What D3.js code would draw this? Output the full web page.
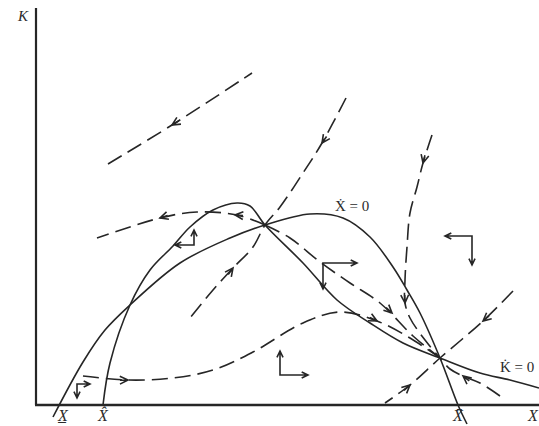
<!DOCTYPE html>
<html>
<head>
<meta charset="utf-8">
<script src="https://cdn.jsdelivr.net/npm/d3@7"></script>
<style>
  body { margin: 0; background: #fff; }
  svg { display: block; }
  text { font-family: "Liberation Serif", "DejaVu Serif", serif; fill: #2b2b2b; }
</style>
</head>
<body>
<div id="chart"></div>
<script>
const width = 539, height = 426;

// nullclines, in chart units (X across, K up)
const xDotZero = [[3.4,-2.4],[9.4,8.6],[13.8,15.0],[18.8,20.0],[28.8,28.4],[38.8,33.4],[45.8,36.0],
  [54.8,38.2],[61.4,37.4],[66.8,33.6],[71.4,27.6],[74.2,23.0],[76.8,18.4],[80.8,9.4],[84.4,0],[86.2,-3.8]];
const kDotZero = [[13.4,0],[14.8,8.4],[18.8,20.0],[22.8,27.0],[27.4,31.8],[30.8,35.6],[35.4,39.0],
  [40.2,40.4],[42.8,39.8],[45.8,36.0],[53.4,28.4],[60.2,21.0],[66.8,16.4],[73.4,12.4],[80.8,9.4],
  [88.8,6.4],[94.8,5.0],[100.6,3.4]];

// trajectories (dashed)
const pathA = [[14.4,48.2],[27.2,56.0],[43.2,66.4]];
const pathB = [[62.0,61.4],[57.2,52.4],[53.4,46.4],[48.8,39.6],[45.8,36.0],[43.4,31.6],[39.4,27.4],[35.4,23.0],[30.8,17.4]];
const pathC = [[45.8,36.0],[40.2,38.0],[32.2,38.6],[24.8,37.4],[12.2,33.4]];
const pathD = [[45.8,36.0],[50.8,33.4],[56.8,28.6],[62.8,24.4],[68.8,20.4],[75.4,13.8],[80.8,9.4]];
const pathE = [[9.4,5.8],[18.4,5.0],[27.4,5.4],[35.4,7.0],[43.4,10.6],[53.4,16.4],[60.8,18.6],[68.2,16.8],[74.8,13.4],[80.8,9.4]];
const pathF = [[79.2,54.0],[77.4,48.4],[76.2,43.6],[74.8,38.4],[74.2,31.6],[73.8,25.0],[73.8,20.4],[74.8,17.4],[77.8,13.0],[80.8,9.4]];
const pathG = [[95.4,22.8],[89.4,16.8],[80.8,9.4],[74.8,4.0],[69.8,0.4]];
const pathH = [[92.8,1.8],[88.8,4.4],[85.4,5.8],[82.8,7.2],[80.8,9.4]];
const trajectories = [pathA, pathB, pathC, pathD, pathE, pathF, pathG, pathH];

// arrowheads: [at, pointing toward]
const arrows = [
  [[27.2,56.0],[14.4,48.2]],
  [[57.2,52.4],[45.8,36.0]], [[39.4,27.4],[45.8,36.0]],
  [[39.8,38.0],[32.2,38.6]], [[24.8,37.4],[12.2,33.4]],
  [[71.2,18.4],[80.8,9.4]],
  [[18.4,5.0],[27.4,5.2]], [[68.2,16.8],[74.8,13.4]],
  [[77.4,48.4],[76.2,43.6]], [[73.8,20.4],[74.0,15.0]],
  [[89.4,16.8],[80.8,9.4]], [[74.8,4.0],[80.8,9.4]],
  [[85.4,5.8],[80.8,9.4]]
];

// phase direction marks: corner, horizontal move, vertical move
const phaseCorners = [[31.6,32.0],[57.4,28.4],[87.2,33.8],[48.8,6.0],[8.2,4.2]];
const phaseMoves = [[-3.8,3.0],[6.8,-5.2],[-5.4,-5.8],[5.6,4.8],[2.6,-2.8]];

// axis tick labels
const tickValues = [5.4, 13.4, 84.4];
const tickLabels = ["X\u0332", "X\u0302", "X\u0304"];

const x = d3.scaleLinear().domain([0, 100]).range([36, 536]);
const y = d3.scaleLinear().domain([0, 80]).range([405, 5]);

const ink = "#262626";

const svg = d3.select("#chart").append("svg")
  .attr("width", width).attr("height", height);

const line = d3.line()
  .x(d => x(d[0])).y(d => y(d[1]))
  .curve(d3.curveCatmullRom.alpha(0.5));

// axes
svg.append("line")
  .attr("x1", x(0)).attr("x2", x(0)).attr("y1", 8).attr("y2", y(0))
  .attr("stroke", ink).attr("stroke-width", 2.2);
svg.append("line")
  .attr("x1", x(0) - 1).attr("x2", width).attr("y1", y(0)).attr("y2", y(0))
  .attr("stroke", ink).attr("stroke-width", 2.6);

// nullclines
svg.append("g").selectAll("path")
  .data([xDotZero, kDotZero])
  .join("path")
  .attr("d", line)
  .attr("fill", "none").attr("stroke", ink).attr("stroke-width", 1.6);

// trajectories
svg.append("g").selectAll("path")
  .data(trajectories)
  .join("path")
  .attr("d", line)
  .attr("fill", "none").attr("stroke", ink).attr("stroke-width", 1.6)
  .attr("stroke-dasharray", "16,7");

function head(px, py, angle, size) {
  const a1 = angle + Math.PI - 0.45, a2 = angle + Math.PI + 0.45;
  return `M${px + size * Math.cos(a1)},${py + size * Math.sin(a1)}L${px},${py}L${px + size * Math.cos(a2)},${py + size * Math.sin(a2)}`;
}

svg.append("g").selectAll("path")
  .data(arrows)
  .join("path")
  .attr("d", d => {
    const px = x(d[0][0]), py = y(d[0][1]);
    const ang = Math.atan2(y(d[1][1]) - py, x(d[1][0]) - px);
    return head(px, py, ang, 9) + `M${px},${py}L${px - 8 * Math.cos(ang)},${py - 8 * Math.sin(ang)}`;
  })
  .attr("fill", "none").attr("stroke", ink).attr("stroke-width", 1.6);

// phase direction marks
svg.append("g").selectAll("path")
  .data(phaseCorners.map((c, i) => ({c, m: phaseMoves[i]})))
  .join("path")
  .attr("d", d => {
    const cx = x(d.c[0]), cy = y(d.c[1]);
    const hx = x(d.c[0] + d.m[0]), vy = y(d.c[1] + d.m[1]);
    return `M${hx},${cy}L${cx},${cy}L${cx},${vy}` +
      head(hx, cy, hx > cx ? 0 : Math.PI, 7) +
      head(cx, vy, vy > cy ? Math.PI / 2 : -Math.PI / 2, 7);
  })
  .attr("fill", "none").attr("stroke", ink).attr("stroke-width", 1.6);

// labels
svg.append("text").attr("x", 18).attr("y", 21)
  .attr("font-size", 15).attr("font-style", "italic").text("K");
svg.append("text").attr("x", 528).attr("y", 421)
  .attr("font-size", 16).attr("font-style", "italic").text("X");

svg.append("g").selectAll("text")
  .data(tickValues)
  .join("text")
  .attr("x", d => x(d)).attr("y", 421)
  .attr("text-anchor", "middle")
  .attr("font-size", 16).attr("font-style", "italic")
  .text((d, i) => tickLabels[i]);

svg.append("text").attr("x", 335).attr("y", 211)
  .attr("font-size", 15).text("X\u0307 = 0");
svg.append("text").attr("x", 500).attr("y", 372)
  .attr("font-size", 15).text("K\u0307 = 0");
</script>
</body>
</html>
